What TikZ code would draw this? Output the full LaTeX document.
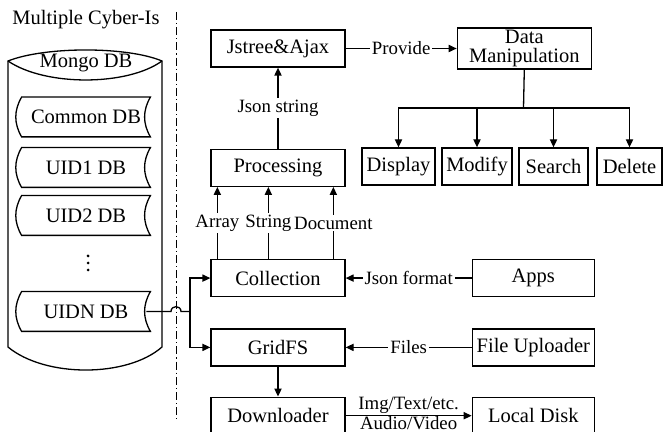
\documentclass[tikz,border=0pt]{standalone}
\usepackage{fontspec}
\setmainfont{Liberation Serif}
\usetikzlibrary{arrows.meta,positioning}
\tikzset{
  box/.style={draw,line width=0.65pt,minimum width=67pt,minimum height=18.5pt,
    inner sep=0pt,align=center,font=\fontsize{10.25}{9.6}\selectfont},
  smallbox/.style={box,minimum width=#1},
  sidebox/.style={box,minimum width=61pt},
  dbtape/.style={minimum width=64pt,minimum height=19.5pt,inner sep=0pt,
    font=\fontsize{10.25}{12}\selectfont},
  plain/.style={inner sep=0pt,font=\fontsize{10.25}{12}\selectfont},
  lbl/.style={fill=white,inner sep=1pt,font=\fontsize{9.4}{11}\selectfont},
  arrow/.style={-{Triangle[length=4pt,width=3.6pt]},line width=0.65pt},
  link/.style={line width=0.65pt},
  divider/.style={line width=0.5pt,dash pattern=on 4pt off 1.5pt on 0.6pt off 1.5pt}
}
\newcommand{\tapeoutline}[1]{%
  \draw[link] (#1.north west) to[bend right=30] (#1.south west) -- (#1.south east)
    to[bend left=30] (#1.north east) -- cycle;}

\begin{document}
\begin{tikzpicture}[x=0.5pt,y=-0.5pt]
\useasboundingbox (0,0) rectangle (663,432);

% left: the database side
\node[plain] (title) at (86,20) {Multiple Cyber-Is};
\draw[link] (8,61) .. controls (45,46.3) and (127,46.3) .. (162,61)
  -- (162,347) .. controls (127,377.7) and (45,377.7) .. (8,347) -- cycle;
\draw[link] (8,61) .. controls (45,86.3) and (127,86.3) .. (162,61);
\node[plain] (mongo) at (86,63) {Mongo DB};

\node[dbtape] (common) at (86,117) {Common DB};
\node[dbtape] (uid1) at (86,167.5) {UID1 DB};
\node[dbtape] (uid2) at (86,215.5) {UID2 DB};
\node[dbtape] (uidn) at (86,311.5) {UIDN DB};
\foreach \n in {common,uid1,uid2,uidn} {\tapeoutline{\n}}
\foreach \y in {256,263,270} \fill (88,\y) circle[radius=0.75pt];

\draw[divider] (176,12) -- (176,422);

% right: the web side
\node[box] (jstree) at (278,48.5) {Jstree\&Ajax};
\node[box,below=40.5pt of jstree] (proc) {Processing};
\node[box,below=36pt of proc] (coll) {Collection};
\node[box,below=15.5pt of coll] (grid) {GridFS};
\node[box,below=15pt of grid] (down) {Downloader};

\node[box,right=55.5pt of jstree,minimum height=20.5pt] (dm) {Data\\Manipulation};
\node[smallbox=36.5pt] (display) at (398.5,166.5) {Display};
\node[smallbox=35pt] (modify) at (477,166.5) {Modify};
\node[smallbox=34.5pt] (search) at (553.5,166.5) {Search};
\node[smallbox=32.5pt] (delete) at (629.5,166.5) {Delete};

\node[sidebox,right=63pt of coll] (apps) {Apps};
\node[sidebox,right=63pt of grid] (upl) {File Uploader};
\node[sidebox,right=63pt of down] (disk) {Local Disk};

% connectors
\coordinate (hub) at (523.5,108);
\draw[link] (dm.south) -- (hub);
\foreach \n in {display,modify,search,delete}
  \draw[arrow] (hub) -| (\n.north);

\draw[arrow] (jstree.east) -- (dm.west) node[midway,lbl] {Provide};
\draw[arrow] (proc.north) -- (jstree.south) node[midway,lbl] {Json string};
\foreach \dx/\txt in {7/Array,58/String,123/Document}
  \draw[arrow] ([xshift=\dx*0.5pt]coll.north west) -- ([xshift=\dx*0.5pt]proc.south west)
    node[midway,lbl] {\txt};
\draw[arrow] (apps.west) -- (coll.east) node[midway,lbl] {Json format};
\draw[arrow] (upl.west) -- (grid.east) node[midway,lbl] {Files};
\draw[arrow] (grid.south) -- (down.north);
\draw[arrow] (down.east) -- (disk.west)
  node[midway,above=0pt,lbl,fill=none,inner sep=0.5pt] {Img/Text/etc.}
  node[midway,below=0pt,lbl,fill=none,inner sep=0.3pt] {Audio/Video};

\coordinate (hopL) at (171,311.5);
\coordinate (hopR) at (181,311.5);
\coordinate (fork) at (190,311.5);
\draw[link] ([xshift=-2pt]uidn.east) -- (hopL) .. controls (171,305) and (181,305) .. (hopR) -- (fork);
\draw[arrow] (fork) |- (coll.west);
\draw[arrow] (fork) |- (grid.west);

\end{tikzpicture}
\end{document}
